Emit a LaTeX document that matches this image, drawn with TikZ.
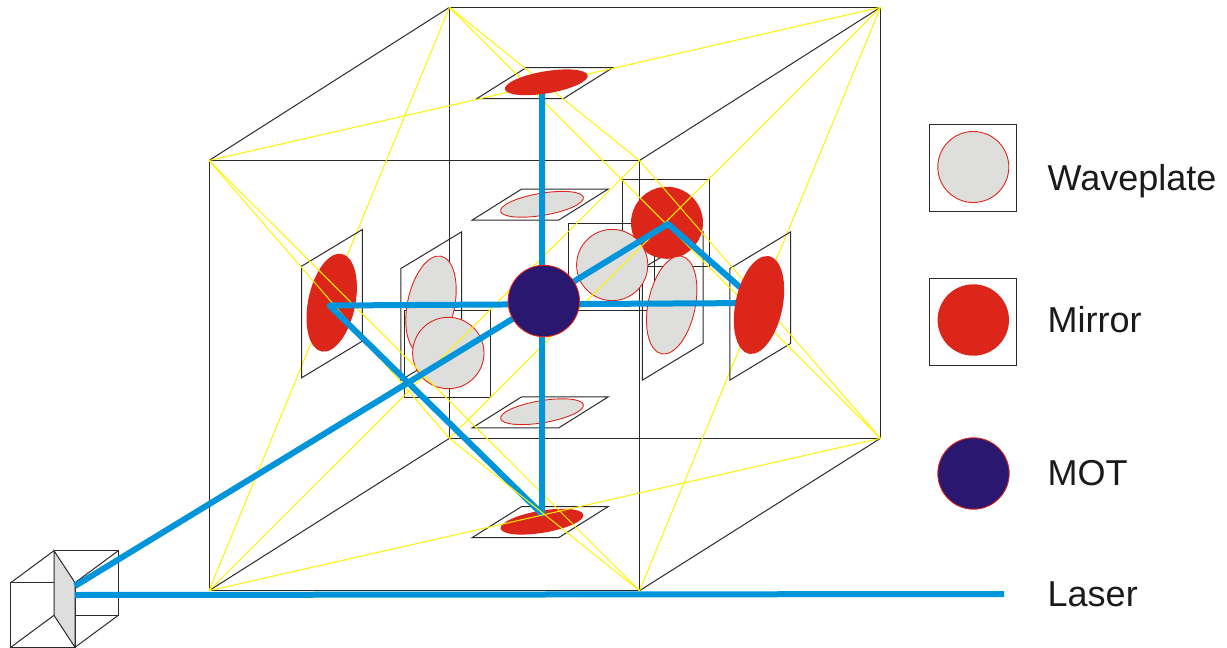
\documentclass[tikz,border=0pt]{standalone}
\usepackage{fontspec}
\setmainfont{Liberation Sans}
\definecolor{beamblue}{HTML}{0095DB}
\definecolor{mirrorred}{HTML}{DC261A}
\definecolor{plategrey}{HTML}{DEDFDD}
\definecolor{motnavy}{HTML}{2A1770}
\definecolor{glowyellow}{HTML}{FFF200}
\definecolor{wireblack}{HTML}{2B2A29}
\definecolor{labelblack}{HTML}{1A1A18}
\tikzset{
  wire/.style={draw=wireblack,line width=1pt,line join=miter},
  glow/.style={draw=glowyellow,line width=1pt},
  beam/.style={draw=beamblue,line width=6pt,line join=round},
  wavedisc/.style={fill=plategrey,draw=mirrorred,line width=0.9pt},
  mirrordisc/.style={fill=mirrorred},
  motdisc/.style={fill=motnavy,draw=mirrorred,line width=0.9pt},
  facefill/.style={fill=plategrey},
  legendtext/.style={anchor=base west,text=labelblack,font=\fontsize{36}{40}\selectfont,inner sep=0pt}
}
% flat plate (top / bottom family) and side plate, given by centre
\newcommand{\flatplate}[1]{\draw[wire,shift={(#1)}] (-18.6,-15.5)--(68,-15.5)--(18.6,15.5)--(-68,15.5)--cycle;}
\newcommand{\sideplate}[1]{\draw[wire,shift={(#1)}] (-30.4,-37.5)--(30.4,-74.2)--(30.4,37.4)--(-30.4,74.1)--cycle;}
\newcommand{\flatdisc}[2]{\path[#1,shift={(#2)},cm={1,0,.569,.358,(0,0)}] (0,0) circle (36pt);}
\newcommand{\sidedisc}[2]{\path[#1,shift={(#2)},cm={.7,.424,0,1.293,(0,0)}] (0,0) circle (36pt);}
\begin{document}
\begin{tikzpicture}[x=1pt,y=-1pt]
\useasboundingbox (0,0) rectangle (1227,648);
% cube corners
\coordinate (ftl) at (209,160.5);
\coordinate (ftr) at (639.5,160.5);
\coordinate (fbl) at (209,590.7);
\coordinate (fbr) at (639.5,590.7);
\coordinate (btl) at (449.5,7.3);
\coordinate (btr) at (880.5,7.3);
\coordinate (bbl) at (449.5,438.3);
\coordinate (bbr) at (880.5,438.3);
% beam vertices
\coordinate (laserA) at (75,595);
\coordinate (laserEnd) at (1004,594);
\coordinate (prismOut) at (75,586);
\coordinate (apex) at (668,224);
\coordinate (rightHit) at (758,303);
\coordinate (leftHit) at (329.5,305.5);
\coordinate (bottomHit) at (542,514);
\coordinate (topHit) at (542,90);
% cube wireframe
\draw[wire] (ftl) rectangle (fbr);
\draw[wire] (btl) rectangle (bbr);
\draw[wire] (ftl)--(btl) (ftr)--(btr) (fbl)--(bbl) (fbr)--(bbr);
% steep yellow lines lying behind the side mirrors
\draw[glow] (fbl)--(btl) (fbr)--(btr);
% plates
\sideplate{332,303.7}
\sideplate{431.3,306}
\sideplate{672.8,306}
\sideplate{760.3,306}
\flatplate{544.7,83.2}
\flatplate{540.3,204.5}
\flatplate{540.3,412.3}
\flatplate{540.3,522}
\draw[wire] (622.7,179.3) rectangle (709.3,266);
\draw[wire] (568.3,223.3) rectangle (654.7,310);
\draw[wire] (404,310.7) rectangle (490,397.3);
% discs under the yellow lines
\path[mirrordisc] (667,222.8) circle (36);
\sidedisc{mirrordisc}{331.7,302.7}
\flatdisc{mirrordisc}{542,521.7}
\sidedisc{wavedisc}{431,305}
\sidedisc{wavedisc}{671.7,305}
\path[wavedisc] (612.2,265) circle (35.6);
\path[wavedisc] (448.3,353) circle (35.7);
\flatdisc{wavedisc}{542,204.3}
\flatdisc{wavedisc}{542,411.7}
% yellow construction lines
\draw[glow] (ftl)--(fbr) (ftr)--(fbl);
\draw[glow] (btl)--(bbr) (btr)--(bbl);
\draw[glow] (ftl)--(bbl);
\draw[glow] (btl)--(ftr)--(bbr);
\draw[glow] (ftl)--(btr);
% prism
\draw[wire] (10.7,582.7) rectangle (75,647.3);
\draw[wire] (54,550.7) rectangle (118.3,615.3);
\draw[wire] (10.7,582.7)--(54,550.7) (75,582.7)--(118.3,550.7) (75,647.3)--(118.3,615.3) (10.7,647.3)--(54,615.3);
\draw[wire,facefill] (54,550.7)--(75,582.7)--(75,647.3)--(54,615.3)--cycle;
% laser beams
\draw[beam] (prismOut)--(apex)--(rightHit)--(leftHit)--(bottomHit)--(topHit);
\draw[beam] (laserA)--(laserEnd);
% yellow lines running over the beam end at the bottom mirror
\draw[glow] (bbl)--(fbr);
\draw[glow] (fbl)--(bbr);
% discs over the beams
\flatdisc{mirrordisc}{546.3,82.3}
\sidedisc{mirrordisc}{759,305}
\path[motdisc] (543.8,301) circle (35.7);
% legend
\draw[wire] (929.3,124.7) rectangle (1016,211.3);
\path[wavedisc] (973.3,167) circle (35.5);
\node[legendtext] (lblWave) at (1047.5,190.7) {Waveplate};
\draw[wire] (929.3,278) rectangle (1016,365);
\path[mirrordisc] (973.3,320) circle (35.7);
\node[legendtext] (lblMirror) at (1047.5,332.7) {Mirror};
\path[motdisc] (973.5,473.5) circle (35.7);
\node[legendtext] (lblMot) at (1047.5,485) {MOT};
\node[legendtext] (lblLaser) at (1047.5,606.5) {Laser};
\end{tikzpicture}
\end{document}
